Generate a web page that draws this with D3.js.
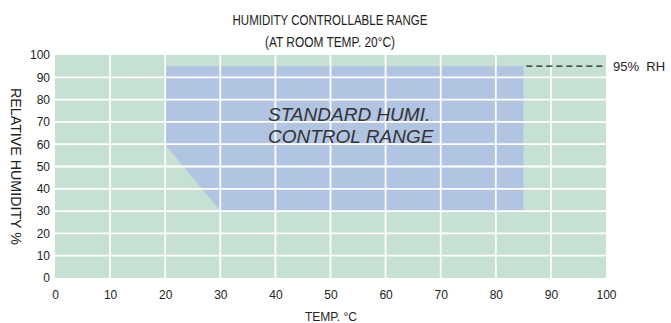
<!DOCTYPE html>
<html>
<head>
<meta charset="utf-8">
<script src="https://cdn.jsdelivr.net/npm/d3@7"></script>
<style>
  html, body { margin: 0; padding: 0; background: #fff; }
  text { font-family: "Liberation Sans", Arial, sans-serif; fill: #222; }
</style>
</head>
<body>
<svg id="chart" width="671" height="323"></svg>
<script>
// Axis ticks
const tempTicks = [0, 10, 20, 30, 40, 50, 60, 70, 80, 90, 100];
const humTicks = [0, 10, 20, 30, 40, 50, 60, 70, 80, 90, 100];

// Standard humidity control range outline: [temperature °C, RH %]
const rangeTemp = [20, 85, 85, 30, 20];
const rangeHum  = [95, 95, 30, 30, 60];

// Upper limit marker
const limitHum = 95;
const limitLabel = "95%  RH";

const titleLines = ["HUMIDITY CONTROLLABLE RANGE", "(AT ROOM TEMP. 20°C)"];
const titleWidths = [195, 130];
const areaLabel = ["STANDARD HUMI.", "CONTROL RANGE"];

const svg = d3.select("#chart");
const margin = { left: 55, right: 65, top: 55, bottom: 45 };
const W = 671, H = 323;

const x = d3.scaleLinear().domain([0, 100]).range([margin.left, W - margin.right]);
const y = d3.scaleLinear().domain([0, 100]).range([H - margin.bottom, margin.top]);

// Background of the whole chart region
svg.append("rect")
  .attr("x", x(0)).attr("y", y(100))
  .attr("width", x(100) - x(0)).attr("height", y(0) - y(100))
  .attr("fill", "#c6e0d3");

// Control range polygon
const pts = rangeTemp.map((t, i) => [x(t), y(rangeHum[i])]);
svg.append("path")
  .attr("d", d3.line()(pts) + "Z")
  .attr("fill", "#b1c4e2");

// White grid lines
svg.append("g").selectAll("line.v")
  .data(tempTicks.slice(1, -1)).join("line")
  .attr("x1", d => x(d)).attr("x2", d => x(d))
  .attr("y1", y(100)).attr("y2", y(0))
  .attr("stroke", "#fff").attr("stroke-width", 1.8);

svg.append("g").selectAll("line.h")
  .data(humTicks.slice(1, -1)).join("line")
  .attr("x1", x(0)).attr("x2", x(100))
  .attr("y1", d => y(d)).attr("y2", d => y(d))
  .attr("stroke", "#fff").attr("stroke-width", 1.8);

// Axes (labels only)
const xAxis = d3.axisBottom(x).tickValues(tempTicks).tickSize(0).tickPadding(12);
const gx = svg.append("g").attr("transform", `translate(0,${y(0)})`).call(xAxis);
gx.select(".domain").remove();
gx.selectAll("text").style("font-size", "12px").style("fill", "#222")
  .style("font-family", "'Liberation Sans', Arial, sans-serif");

const yAxis = d3.axisLeft(y).tickValues(humTicks).tickSize(0).tickPadding(5);
const gy = svg.append("g").attr("transform", `translate(${x(0)},0)`).call(yAxis);
gy.select(".domain").remove();
gy.selectAll("text").style("font-size", "12px").style("fill", "#222")
  .style("font-family", "'Liberation Sans', Arial, sans-serif");

// Titles
svg.append("g").selectAll("text")
  .data(titleLines).join("text")
  .attr("x", 330).attr("y", (d, i) => 25 + i * 22)
  .attr("text-anchor", "middle")
  .attr("textLength", (d, i) => titleWidths[i])
  .attr("lengthAdjust", "spacingAndGlyphs")
  .style("font-size", "14.5px")
  .text(d => d);

// Axis titles
svg.append("text")
  .attr("x", 331).attr("y", 321)
  .attr("text-anchor", "middle")
  .style("font-size", "12px")
  .text("TEMP. °C");

svg.append("text")
  .attr("transform", `translate(11,${(y(0) + y(100)) / 2}) rotate(90)`)
  .attr("text-anchor", "middle")
  .attr("textLength", 157)
  .attr("lengthAdjust", "spacingAndGlyphs")
  .style("font-size", "14px")
  .text("RELATIVE HUMIDITY %");

// Range annotation
svg.append("g").selectAll("text")
  .data(areaLabel).join("text")
  .attr("x", 268).attr("y", (d, i) => 121 + i * 22)
  .style("font-size", "19px").style("font-style", "italic").style("fill", "#333")
  .text(d => d);

// 95% RH dashed marker
svg.append("line")
  .attr("x1", x(85) + 3).attr("x2", x(100))
  .attr("y1", y(limitHum)).attr("y2", y(limitHum))
  .attr("stroke", "#222").attr("stroke-width", 1.2)
  .attr("stroke-dasharray", "6,4");

svg.append("text")
  .attr("x", x(100) + 7).attr("y", y(limitHum) + 5)
  .style("font-size", "13px")
  .attr("xml:space", "preserve")
  .text(limitLabel);
</script>
</body>
</html>
